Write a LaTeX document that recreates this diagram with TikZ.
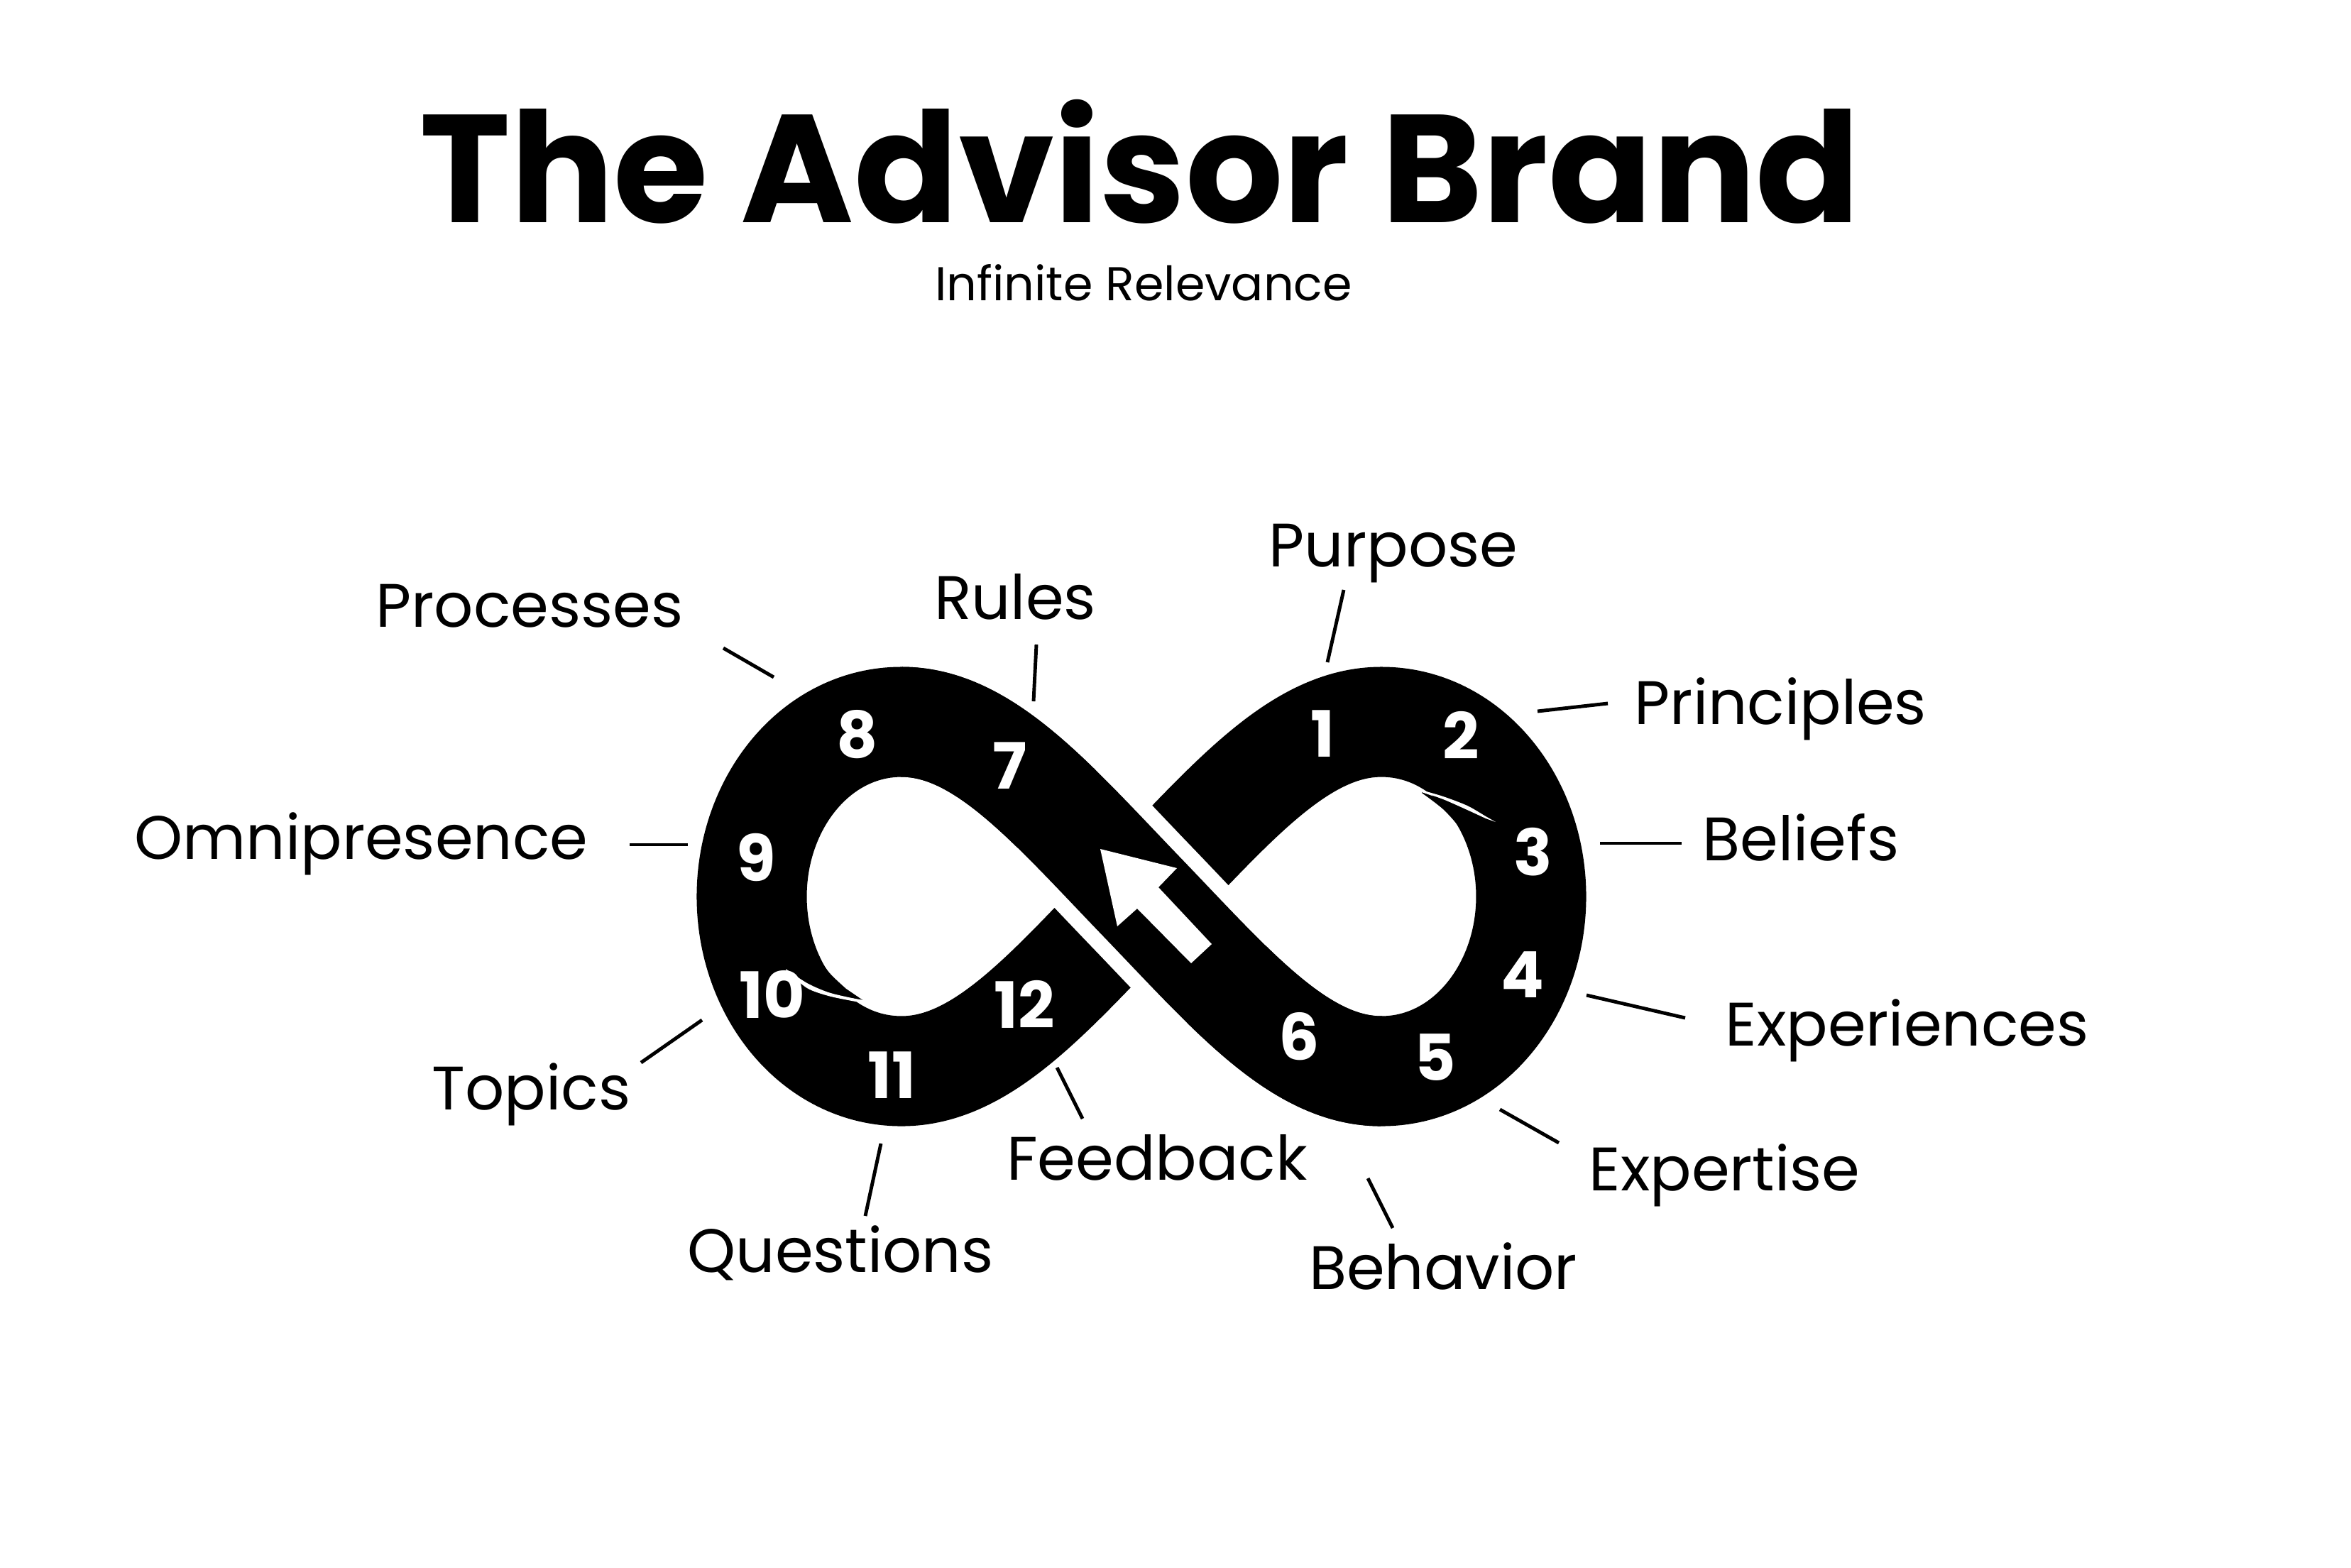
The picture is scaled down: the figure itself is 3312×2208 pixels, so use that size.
\documentclass[tikz,border=0pt]{standalone}
\usepackage{fontspec}
\setmainfont{Poppins}
\usetikzlibrary{positioning}

\begin{document}
\begin{tikzpicture}[
 x=0.01cm,y=-0.01cm,
 lbl/.style={font=\fontsize{24.6}{30}\selectfont,inner sep=0pt},
 num/.style={font=\fontsize{25.6}{30}\selectfont\bfseries,text=white,inner sep=0pt},
 tickline/.style={line width=1.4pt},
 band/.style={line width=44.1pt,draw=black},
 gapband/.style={line width=56.6pt,draw=white}]
\fill[white] (0,0) rectangle (3312,2208);
\useasboundingbox (0,0) rectangle (3312,2208);
% title
\node[font=\fontsize{61.5}{70}\selectfont\bfseries,anchor=base,inner sep=0pt] (title) at (1606,313) {The Advisor Brand};
\node[font=\fontsize{19}{22}\selectfont,anchor=base,inner sep=0pt] (subtitle) at (1611,423) {Infinite Relevance};
% the infinity band
\coordinate (mid) at (1608,1263);
\draw[band] (mid) .. controls (1480,1130) and (1385,1017) .. (1270,1017)
 .. controls (1150,1017) and (1059,1130) .. (1059,1263)
 .. controls (1059,1396) and (1150,1509) .. (1270,1509)
 .. controls (1385,1509) and (1480,1396) .. (mid)
 .. controls (1736,1130) and (1831,1017) .. (1946,1017)
 .. controls (2066,1017) and (2157,1130) .. (2157,1263)
 .. controls (2157,1396) and (2066,1509) .. (1946,1509)
 .. controls (1831,1509) and (1736,1396) .. cycle;
% over-crossing strand
\begin{scope}
\clip (mid) circle (190);
\draw[gapband] (1946,1509) .. controls (1831,1509) and (1736,1396) .. (mid)
 .. controls (1480,1130) and (1385,1017) .. (1270,1017);
\end{scope}
\draw[band] (1946,1509) .. controls (1831,1509) and (1736,1396) .. (mid)
 .. controls (1480,1130) and (1385,1017) .. (1270,1017);
% tails inside the loops
\fill[black] plot[smooth] coordinates {(1107,1365) (1137,1385) (1167,1398) (1200,1406) (1217,1410)}
 -- plot[smooth] coordinates {(1192,1393) (1168,1370) (1150,1342) (1139,1312) (1136,1290)} -- (1095,1290) -- cycle;
\fill[white] plot[smooth] coordinates {(1107,1365) (1137,1385) (1167,1398) (1200,1406) (1217,1409) (1240,1414)}
 -- plot[smooth] coordinates {(1240,1419) (1217,1413) (1200,1410) (1167,1403) (1137,1392) (1108,1368)} -- cycle;
\fill[black] plot[smooth] coordinates {(2003,1116) (2033,1127) (2067,1142) (2093,1153) (2107,1158)}
 -- (2115,1250) -- plot[smooth] coordinates {(2087,1250) (2077,1200) (2057,1167) (2033,1140) (2003,1117)} -- cycle;
\fill[white] plot[smooth] coordinates {(1980,1107) (2002,1113) (2033,1122) (2067,1135) (2093,1150) (2107,1158)}
 -- plot[smooth] coordinates {(2093,1153) (2067,1141) (2033,1126) (2003,1116) (1980,1111)} -- cycle;
% arrow
\fill[white] (1550,1196) -- (1658,1223) -- (1632,1250) -- (1707,1330)
 -- (1678,1357) -- (1602,1280) -- (1574,1305) -- cycle;
% numbers
\node[num] (n1) at (1863,1034) {1};
\node[num] (n2) at (2058,1036) {2};
\node[num] (n3) at (2160,1200) {3};
\node[num] (n4) at (2145,1373) {4};
\node[num] (n5) at (2022,1490) {5};
\node[num] (n6) at (1830,1460) {6};
\node[num] (n7) at (1423,1079) {7};
\node[num] (n8) at (1208,1035) {8};
\node[num] (n9) at (1065,1208) {9};
\node[num] (n10) at (1088,1401) {10};
\node[num] (n11) at (1256,1515) {11};
\node[num] (n12) at (1443,1415) {12};
% labels
\node[lbl,anchor=base east] (processes) at (963,883) {Processes};
\node[lbl,anchor=base] (rules) at (1430,872) {Rules};
\node[lbl,anchor=base] (purpose) at (1963,798) {Purpose};
\node[lbl,anchor=base west] (principles) at (2302,1020) {Principles};
\node[lbl,anchor=base west] (beliefs) at (2398,1212) {Beliefs};
\node[lbl,anchor=base west] (experiences) at (2430,1473) {Experiences};
\node[lbl,anchor=base west] (expertise) at (2238,1677) {Expertise};
\node[lbl,anchor=base] (behavior) at (2033,1816) {Behavior};
\node[lbl,anchor=base] (feedback) at (1630,1662) {Feedback};
\node[lbl,anchor=base] (questions) at (1184,1792) {Questions};
\node[lbl,anchor=base east] (topics) at (889,1563) {Topics};
\node[lbl,anchor=base east] (omni) at (829,1210) {Omnipresence};
% ticks
\coordinate (procA) at (1019,913); \coordinate (procB) at (1090,954);
\coordinate (rulA) at (1460,908); \coordinate (rulB) at (1456,988);
\coordinate (purA) at (1893,831); \coordinate (purB) at (1870,933);
\coordinate (prinA) at (2166,1002); \coordinate (prinB) at (2265,991);
\coordinate (belA) at (2254,1188); \coordinate (belB) at (2369,1188);
\coordinate (expA) at (2235,1402); \coordinate (expB) at (2374,1434);
\coordinate (xprA) at (2113,1563); \coordinate (xprB) at (2196,1610);
\coordinate (behA) at (1927,1660); \coordinate (behB) at (1962,1730);
\coordinate (feedA) at (1489,1504); \coordinate (feedB) at (1525,1576);
\coordinate (quesA) at (1241,1611); \coordinate (quesB) at (1219,1713);
\coordinate (topA) at (989,1437); \coordinate (topB) at (903,1497);
\coordinate (omniA) at (887,1190); \coordinate (omniB) at (969,1190);
\draw[tickline] (procA) -- (procB);
\draw[tickline] (rulA) -- (rulB);
\draw[tickline] (purA) -- (purB);
\draw[tickline] (prinA) -- (prinB);
\draw[tickline] (belA) -- (belB);
\draw[tickline] (expA) -- (expB);
\draw[tickline] (xprA) -- (xprB);
\draw[tickline] (behA) -- (behB);
\draw[tickline] (feedA) -- (feedB);
\draw[tickline] (quesA) -- (quesB);
\draw[tickline] (topA) -- (topB);
\draw[tickline] (omniA) -- (omniB);
\end{tikzpicture}
\end{document}
